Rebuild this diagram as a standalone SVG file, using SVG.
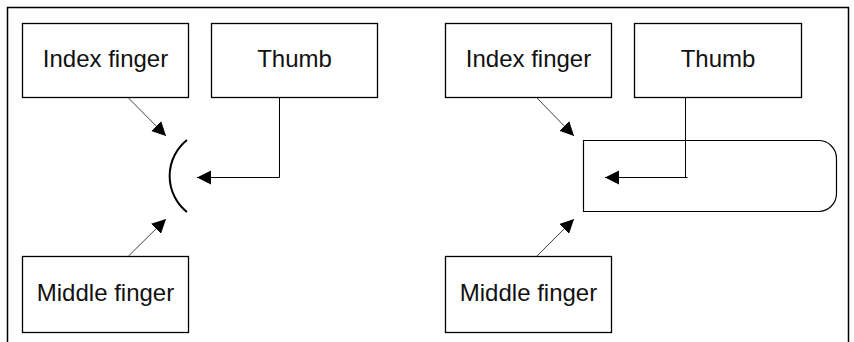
<svg xmlns="http://www.w3.org/2000/svg" width="854" height="342" viewBox="0 0 854 342">
<style>
.box{fill:#fff;stroke:#000;stroke-width:1.3}
.lbl{font-family:"Liberation Sans",Arial,sans-serif;font-size:24px;fill:#111;text-anchor:middle}
.conn{fill:none;stroke:#000;stroke-width:1}
.diag{fill:none;stroke:#444;stroke-width:1}
</style>
<defs>
<marker id="ah" markerUnits="userSpaceOnUse" markerWidth="15" markerHeight="15" refX="14" refY="7" orient="auto" viewBox="0 0 15 15">
<path d="M0,0 L14,7 L0,14 Z" fill="#000"/>
</marker>
</defs>
<rect width="854" height="342" fill="#fff"/>
<path d="M7.5,342 V7.5 H848.5 V342" fill="none" stroke="#000" stroke-width="1.5"/>

<g id="left-index"><rect class="box" x="22.5" y="23.5" width="166" height="74"/><text class="lbl" x="105.5" y="66.5">Index finger</text></g>
<g id="left-thumb"><rect class="box" x="211.5" y="23.5" width="166" height="74"/><text class="lbl" x="294.5" y="66.5">Thumb</text></g>
<g id="left-middle"><rect class="box" x="22.5" y="256.5" width="166" height="76"/><text class="lbl" x="105.5" y="300.5">Middle finger</text></g>
<g id="left-bracket"><path d="M187,140 A46,46 0 0 0 187,212" fill="none" stroke="#000" stroke-width="2"/></g>

<g id="right-index"><rect class="box" x="445.5" y="23.5" width="166" height="74"/><text class="lbl" x="528.5" y="66.5">Index finger</text></g>
<g id="right-thumb"><rect class="box" x="634.5" y="23.5" width="167" height="74"/><text class="lbl" x="718" y="66.5">Thumb</text></g>
<g id="right-middle"><rect class="box" x="445.5" y="256.5" width="166" height="76"/><text class="lbl" x="528.5" y="300.5">Middle finger</text></g>
<g id="right-container"><path d="M583.5,140.5 H818.5 A18,18 0 0 1 836.5,158.5 V193.5 A18,18 0 0 1 818.5,211.5 H583.5 Z" fill="none" stroke="#000" stroke-width="1.2"/></g>

<g id="connectors">
<path class="diag" d="M128.5,98 L166,136" marker-end="url(#ah)"/>
<path class="diag" d="M128.5,256 L166,219" marker-end="url(#ah)"/>
<path class="conn" d="M279.5,98 V177.5 H197" marker-end="url(#ah)"/>
<path class="diag" d="M537,98 L574,136" marker-end="url(#ah)"/>
<path class="diag" d="M537,256 L574,219" marker-end="url(#ah)"/>
<path class="conn" d="M685.5,98 V177.5 M687.5,177.5 H605" marker-end="url(#ah)"/>
</g>
</svg>
